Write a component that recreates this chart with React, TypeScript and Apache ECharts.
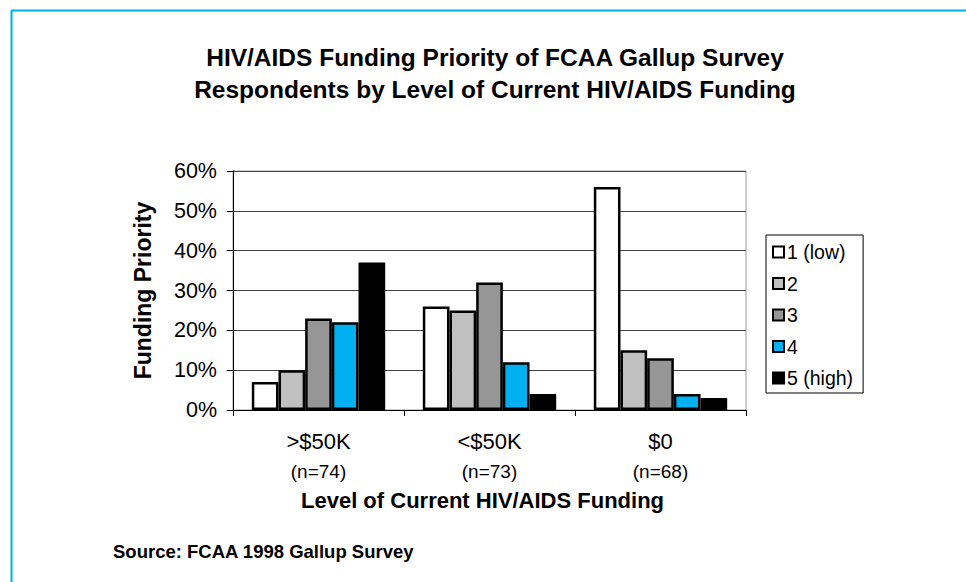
import React, { useEffect, useRef } from "react";
import * as echarts from "echarts";

const categories = [">$50K", "<$50K", "$0"];
const sampleSizes = ["(n=74)", "(n=73)", "(n=68)"];
const seriesNames = ["1 (low)", "2", "3", "4", "5 (high)"];
const low1 = [7, 26, 56];
const level2 = [10, 25, 15];
const level3 = [23, 32, 13];
const level4 = [22, 12, 4];
const high5 = [37, 4, 3];
const seriesColors = ["#FFFFFF", "#C0C0C0", "#969696", "#00B0F0", "#000000"];
const yTicks = { min: 0, max: 60, interval: 10 };

const FONT = "Liberation Sans, Arial, sans-serif";

export default function App() {
  const ref = useRef<HTMLDivElement>(null);
  useEffect(() => {
    if (!ref.current) return;
    const chart = echarts.init(ref.current, undefined, { renderer: "svg" });
    const values = [low1, level2, level3, level4, high5];
    chart.setOption({
      animation: false,
      backgroundColor: "#FFFFFF",
      textStyle: { fontFamily: FONT },
      title: {
        text: "HIV/AIDS Funding Priority of FCAA Gallup Survey\nRespondents by Level of Current HIV/AIDS Funding",
        left: 490,
        top: 36,
        textAlign: "center",
        textStyle: { fontFamily: FONT, fontSize: 24.5, fontWeight: "bold", color: "#000", lineHeight: 32 },
      },
      legend: {
        orient: "vertical",
        left: 766,
        top: 235,
        padding: [7, 10, 5, 6],
        itemGap: 11.5,
        itemWidth: 11,
        itemHeight: 11,
        borderColor: "#000",
        borderWidth: 1,
        icon: "rect",
        data: seriesNames,
        textStyle: { fontFamily: FONT, fontSize: 19.5, color: "#000", lineHeight: 20, padding: [0, 0, 0, -2] },
      },
      grid: { left: 233, top: 171, right: 220, bottom: 172, show: true, borderColor: "#999", borderWidth: 1, backgroundColor: "transparent" },
      xAxis: {
        type: "category",
        data: categories,
        axisLine: { lineStyle: { color: "#000", width: 1 } },
        axisTick: { show: true, length: 6, lineStyle: { color: "#000" } },
        axisLabel: {
          margin: 16,
          formatter: (v: string) => {
            const i = categories.indexOf(v);
            return `{a|${v}}\n{b|${sampleSizes[i]}}`;
          },
          rich: {
            a: { fontFamily: FONT, fontSize: 22, color: "#000", lineHeight: 30 },
            b: { fontFamily: FONT, fontSize: 19, color: "#000", lineHeight: 30 },
          },
        },
        name: "Level of Current HIV/AIDS Funding",
        nameLocation: "middle",
        nameGap: 79,
        nameTextStyle: { fontFamily: FONT, fontSize: 22, fontWeight: "bold", color: "#000", padding: [0, 14, 0, 0] },
      },
      yAxis: {
        type: "value",
        min: yTicks.min,
        max: yTicks.max,
        interval: yTicks.interval,
        axisLine: { show: true, lineStyle: { color: "#000", width: 1 } },
        axisTick: { show: true, length: 6, lineStyle: { color: "#000" } },
        axisLabel: { formatter: "{value}%", fontFamily: FONT, fontSize: 21.5, color: "#000", margin: 16 },
        splitLine: { show: true, lineStyle: { color: "#444", width: 1 } },
        name: "Funding Priority",
        nameLocation: "middle",
        nameRotate: 90,
        nameGap: 79,
        nameTextStyle: { fontFamily: FONT, fontSize: 23, fontWeight: "bold", color: "#000" },
      },
      series: seriesNames.map((name, i) => ({
        name,
        type: "bar",
        data: values[i],
        barGap: "0%",
        barCategoryGap: "22%",
        itemStyle: { color: seriesColors[i], borderColor: "#000", borderWidth: 2.5 },
      })),
      graphic: [
        { type: "line", shape: { x1: 11.5, y1: 10, x2: 11.5, y2: 582 }, style: { stroke: "#00B0F0", lineWidth: 2 } },
        { type: "line", shape: { x1: 11, y1: 10.5, x2: 966, y2: 10.5 }, style: { stroke: "#00B0F0", lineWidth: 2 } },
        {
          type: "text",
          x: 113,
          y: 551,
          style: { text: "Source: FCAA 1998 Gallup Survey", fontFamily: FONT, fontSize: 18.5, fontWeight: "bold", fill: "#000", textVerticalAlign: "middle" },
        },
      ],
    });
    return () => chart.dispose();
  }, []);
  return <div ref={ref} style={{ position: "absolute", left: 0, top: 0, width: 966, height: 582 }} />;
}
